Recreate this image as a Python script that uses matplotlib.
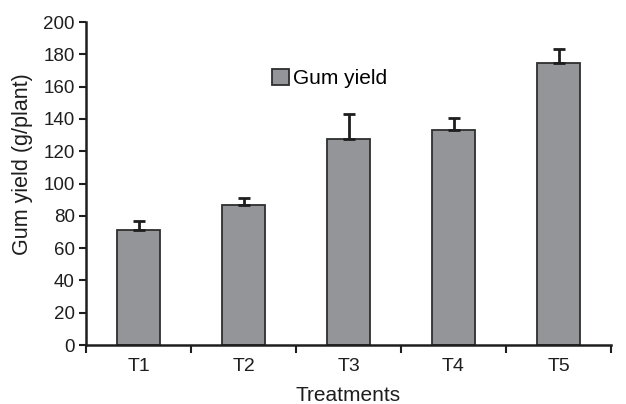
import numpy as np
import matplotlib.pyplot as plt

plt.rcParams['font.family'] = ['Liberation Sans', 'DejaVu Sans']

treatments = ['T1', 'T2', 'T3', 'T4', 'T5']
gum_yield = [71.0, 87.0, 127.5, 133.0, 174.5]
yield_err = [5.6, 4.0, 15.5, 7.8, 8.5]

ink = '#1e1e1e'

fig = plt.figure(figsize=(6.26, 4.04), dpi=100)
ax = fig.add_axes([0.1374, 0.146, 0.8387, 0.7995])

x = np.arange(len(treatments))
ax.bar(x, gum_yield, width=0.41, color='#939598', edgecolor='#2e2e2e',
       linewidth=1.3, label='Gum yield', zorder=2)
ax.errorbar(x, gum_yield, yerr=[np.zeros(len(x)), yield_err], fmt='none',
            ecolor=ink, elinewidth=2, capsize=4, capthick=2, zorder=3)

ax.set_xlim(-0.5, len(x) - 0.5)
ax.set_ylim(0, 200)
ax.set_yticks(np.arange(0, 201, 20))
ax.set_xticks(x)
ax.set_xticklabels(treatments)
ax.set_xticks(np.arange(-0.5, len(x), 1), minor=True)

for side in ['top', 'right']:
    ax.spines[side].set_visible(False)
for side in ['left', 'bottom']:
    ax.spines[side].set_linewidth(1.8)
    ax.spines[side].set_color(ink)

ax.tick_params(axis='y', direction='out', length=5, width=1.5,
               labelsize=13.5, colors=ink, pad=3)
ax.tick_params(axis='x', which='major', length=0, labelsize=14,
               colors=ink, pad=9)
ax.tick_params(axis='x', which='minor', direction='out', length=6, width=1.5,
               color=ink)

ax.set_xlabel('Treatments', fontsize=15, color=ink, labelpad=8)
ax.set_ylabel('Gum yield (g/plant)', fontsize=15.5, color=ink)
ax.yaxis.set_label_coords(-0.101, 0.56)

ax.legend(loc='center left', bbox_to_anchor=(0.335, 0.824), frameon=False,
          fontsize=15, handlelength=0.8, handleheight=0.8,
          handletextpad=0.2, borderpad=0)

fig.savefig('out.png', dpi=100)
